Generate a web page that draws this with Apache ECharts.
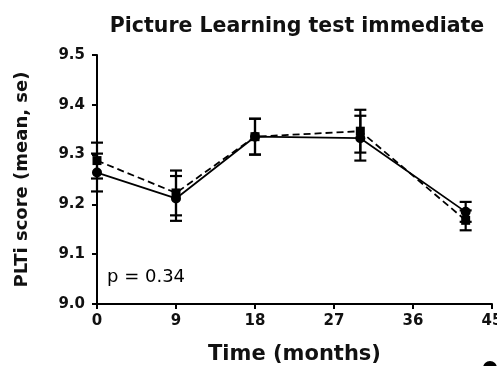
<!DOCTYPE html>
<html>
<head>
<meta charset="utf-8">
<script src="https://cdn.jsdelivr.net/npm/echarts@6/dist/echarts.min.js"></script>
<style>html,body{margin:0;padding:0;background:#fff;}#c{width:497px;height:366px;}</style>
</head>
<body>
<div id="c"></div>
<script>
var months = [0, 9, 18, 30, 42];
var solidMean = [9.264, 9.212, 9.336, 9.333, 9.185];
var solidSe = [0.038, 0.045, 0.036, 0.045, 0.02];
var dashedMean = [9.288, 9.223, 9.336, 9.347, 9.168];
var dashedSe = [0.036, 0.045, 0.036, 0.043, 0.02];
var xTicks = [0, 9, 18, 27, 36, 45];
var yTicks = [9.0, 9.1, 9.2, 9.3, 9.4, 9.5];

function pairs(xs, ys){ return xs.map(function(x,i){ return [x, ys[i]]; }); }
function errData(xs, m, s){ return xs.map(function(x,i){ return [x, m[i]-s[i], m[i]+s[i]]; }); }

function errRender(params, api){
  var x = api.value(0);
  var lo = api.coord([x, api.value(1)]);
  var hi = api.coord([x, api.value(2)]);
  var w = 6;
  var st = {stroke:'#000', lineWidth:2.2};
  return {type:'group', children:[
    {type:'line', shape:{x1:lo[0],y1:lo[1],x2:hi[0],y2:hi[1]}, style:st},
    {type:'line', shape:{x1:lo[0]-w,y1:lo[1],x2:lo[0]+w,y2:lo[1]}, style:st},
    {type:'line', shape:{x1:hi[0]-w,y1:hi[1],x2:hi[0]+w,y2:hi[1]}, style:st}
  ]};
}

var FF = 'DejaVu Sans, Liberation Sans, sans-serif';
var chart = echarts.init(document.getElementById('c'));
var bold = {fontFamily:FF, fontWeight:'bold', color:'#111'};
chart.setOption({
  animation:false,
  title:{text:'Picture Learning test immediate', left:292, top:11, textAlign:'center',
    textStyle:{fontFamily:FF, fontWeight:'bold', fontSize:20.5, color:'#111'}},
  grid:{left:97, right:5, top:55, bottom:62, containLabel:false, outerBoundsMode:'none'},
  xAxis:{type:'value', min:0, max:45, interval:9,
    name:'Time (months)', nameLocation:'middle', nameGap:40,
    nameTextStyle:Object.assign({fontSize:21}, bold),
    axisLine:{lineStyle:{color:'#000', width:2}},
    axisTick:{show:true, length:5, lineStyle:{color:'#000', width:2}},
    axisLabel:Object.assign({fontSize:15, margin:10, showMaxLabel:true}, bold),
    splitLine:{show:false}},
  yAxis:{type:'value', min:9.0, max:9.5, interval:0.1,
    name:'PLTi score (mean, se)', nameLocation:'middle', nameGap:66, nameRotate:90,
    nameTextStyle:Object.assign({fontSize:18}, bold),
    axisLine:{show:true, lineStyle:{color:'#000', width:2}},
    axisTick:{show:true, length:5, lineStyle:{color:'#000', width:2}},
    axisLabel:Object.assign({fontSize:15, margin:12, formatter:function(v){return v.toFixed(1);}}, bold),
    splitLine:{show:false}},
  series:[
    {type:'custom', renderItem:errRender, data:errData(months, solidMean, solidSe), z:3},
    {type:'custom', renderItem:errRender, data:errData(months, dashedMean, dashedSe), z:3},
    {type:'line', data:pairs(months, solidMean), symbol:'circle', symbolSize:10,
      lineStyle:{color:'#000', width:1.8}, itemStyle:{color:'#000'}, z:4},
    {type:'line', data:pairs(months, dashedMean), symbol:'rect', symbolSize:9,
      lineStyle:{color:'#000', width:1.8, type:[7,4]}, itemStyle:{color:'#000'}, z:4}
  ],
  graphic:[
    {type:'text', left:107, top:268, style:{text:'p = 0.34', font:'18px DejaVu Sans, sans-serif', fill:'#000'}},
    {type:'circle', shape:{cx:490, cy:368, r:7}, style:{fill:'#000'}}
  ]
});
</script>
</body>
</html>
